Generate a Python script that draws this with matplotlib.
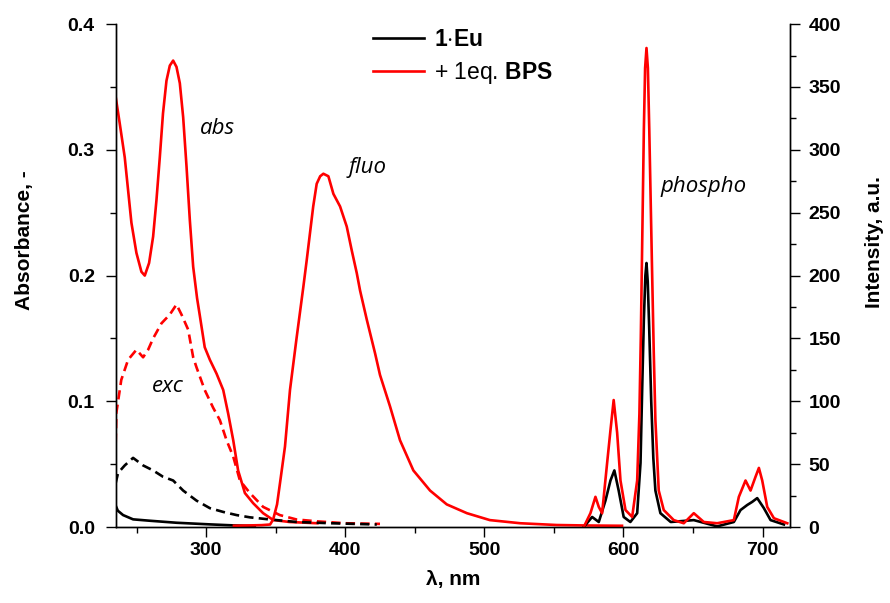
import matplotlib
matplotlib.use('Agg')
import matplotlib.pyplot as plt
from matplotlib.ticker import MultipleLocator, FormatStrFormatter

plt.rcParams['font.family'] = ['Liberation Sans', 'DejaVu Sans']
plt.rcParams['mathtext.fontset'] = 'custom'
plt.rcParams['mathtext.rm'] = 'Liberation Sans'
plt.rcParams['mathtext.bf'] = 'Liberation Sans:bold'

# absorbance (left axis)
abs_red_nm = [235, 237.9, 241.5, 243.9, 246.3, 249.9, 253.5, 255.9, 259, 261.9, 264.3, 266.7,
              269, 271.5, 273.9, 276.3, 278.7, 281.1, 283.5, 285.9, 288.3, 290.7, 293.5, 295.5,
              299, 302.7, 307.5, 312.3, 315.9, 319.5, 323, 327.9, 333.8, 341, 348.2, 360, 380]
abs_red = [0.342, 0.321, 0.294, 0.268, 0.242, 0.218, 0.203, 0.200, 0.210, 0.231, 0.260, 0.294,
           0.329, 0.355, 0.367, 0.371, 0.366, 0.353, 0.326, 0.287, 0.244, 0.207, 0.182, 0.168,
           0.143, 0.133, 0.122, 0.109, 0.090, 0.069, 0.045, 0.027, 0.019, 0.011, 0.0056, 0.004, 0.003]
abs_blk_nm = [235, 236.5, 240.3, 247.5, 259.5, 278.7, 302.7, 319.5, 335]
abs_blk = [0.017, 0.013, 0.0095, 0.0061, 0.005, 0.0034, 0.0021, 0.0013, 0.0008]

# excitation (right axis)
exc_red_nm = [235, 235.5, 239, 243.9, 249.9, 254.7, 258.3, 261.9, 267.9, 273.9, 278.7, 282.3,
              287.1, 290.7, 293.1, 299, 305, 309.9, 314.7, 319.5, 324.3, 331.5, 341, 353,
              365, 380, 400, 425]
exc_red = [67, 91, 117, 133, 141, 135, 141, 150, 162, 169, 177, 169,
           157, 135, 127, 109, 95, 85, 69, 56, 37, 27, 16, 9.5,
           6, 4.5, 3, 2.5]
exc_blk_nm = [235, 236.7, 241.5, 247.5, 254.7, 261.9, 269, 276.3, 283.5, 293.1, 302.7, 312.3,
              321.9, 331.5, 345.9, 365, 390, 422.7]
exc_blk = [35, 43, 49, 55, 49, 45, 40, 37, 29, 21, 15, 12,
           9.5, 7.7, 6, 4, 3, 2]

# fluorescence (right axis)
fluo_nm = [320, 340, 346, 348.2, 351, 353.5, 356.7, 360.3, 365, 369.9, 372.3, 374.7, 377,
           379.5, 382, 384.3, 387.9, 391.5, 396.3, 401.1, 404.7, 408.3, 410.7, 415.5, 421.5,
           425, 432.2, 439.4, 449, 461, 473, 487.5, 504, 525.9, 552, 575, 599]
fluo = [1, 1.5, 2, 6, 18, 38, 64, 109, 150, 191, 212, 234, 255,
        273, 279, 281, 279, 265, 255, 239, 220, 202, 188, 165, 138,
        121, 96, 69, 45, 29, 18, 11, 5.5, 3, 1.6, 1.2, 1]

# phosphorescence (right axis)
ph_red_nm = [571.5, 576.3, 579.9, 582.3, 584.7, 588.3, 590.7, 593, 595.5, 597.9, 601.5, 606.3,
             609.9, 611.5, 612.5, 613.3, 614.7, 615.6, 616.6, 617.6, 618.6, 620.5, 621.8, 623,
             625.4, 629, 636.2, 643.4, 650.6, 657.8, 667.4, 679.4, 683, 687.8, 691.4, 695,
             697.4, 699.8, 703.4, 708.2, 717.8]
ph_red = [0, 11, 24, 16, 11, 51, 77, 101, 75, 37, 13.5, 8,
          37, 90, 150, 210, 316, 365, 381, 365, 316, 210, 140, 85,
          29, 13.5, 5.5, 3, 11, 4, 3, 5.5, 24, 37, 29, 40,
          47, 37, 16, 7, 3]
ph_blk_nm = [571.5, 577.5, 582.3, 587.1, 590.7, 593.5, 596.6, 600.2, 605, 609.9, 612.3, 613.5,
             614.7, 615.8, 616.6, 617.5, 618.5, 620, 621.5, 623, 626.6, 634, 650.6, 667.4,
             679.4, 684.2, 689, 692.6, 696.2, 701, 705.8, 715.4]
ph_blk = [0, 8, 4, 21, 37, 45, 29, 8, 4, 11, 51, 110,
          165, 200, 210, 195, 160, 100, 55, 29, 11, 4, 5.5, 0.5,
          4, 13.5, 17.5, 20, 23, 15, 5.5, 2]

red = '#ff0000'
lw = 1.9
fig = plt.figure(figsize=(8.9, 6.03), dpi=100)
ax = fig.add_axes([0.130, 0.126, 0.758, 0.834])
ax2 = ax.twinx()

ax.plot(abs_red_nm, abs_red, color=red, lw=lw)
ax.plot(abs_blk_nm, abs_blk, color='black', lw=lw)
ax2.plot(exc_red_nm, exc_red, color=red, lw=lw, ls=(0, (3.5, 2)))
ax2.plot(exc_blk_nm, exc_blk, color='black', lw=lw, ls=(0, (3.5, 2)))
ax2.plot(fluo_nm, fluo, color=red, lw=lw)
ax2.plot(ph_blk_nm, ph_blk, color='black', lw=lw)
ax2.plot(ph_red_nm, ph_red, color=red, lw=lw)

ax.set_xlim(235, 720)
ax.set_ylim(0, 0.4)
ax2.set_ylim(0, 400)
ax.xaxis.set_major_locator(MultipleLocator(100))
ax.xaxis.set_minor_locator(MultipleLocator(50))
ax.yaxis.set_major_locator(MultipleLocator(0.1))
ax.yaxis.set_minor_locator(MultipleLocator(0.05))
ax.yaxis.set_major_formatter(FormatStrFormatter('%.1f'))
ax2.yaxis.set_major_locator(MultipleLocator(50))
ax2.yaxis.set_minor_locator(MultipleLocator(25))

for a in (ax, ax2):
    a.spines['top'].set_visible(False)
    for s in a.spines.values():
        s.set_linewidth(1.0)
    a.tick_params(which='major', direction='out', length=7, width=1.0, labelsize=14)
    a.tick_params(which='minor', direction='out', length=4, width=1.0)
    for lab in a.get_xticklabels() + a.get_yticklabels():
        lab.set_fontweight('bold')
ax.tick_params(axis='y', which='major', pad=8)
ax2.tick_params(axis='y', which='major', pad=6)

ax.set_xlabel('λ, nm', fontsize=15, fontweight='bold', labelpad=8)
fig.text(0.028, 0.602, 'Absorbance, -', fontsize=15, fontweight='bold',
         rotation=90, ha='center', va='center')
fig.text(0.983, 0.598, 'Intensity, a.u.', fontsize=15, fontweight='bold',
         rotation=90, ha='center', va='center')

lab_font = dict(family=['Open Sans', 'DejaVu Sans'], style='italic', fontsize=16)
ax.text(308.4, 0.317, 'abs', ha='center', va='center', **lab_font)
ax.text(416.4, 0.286, 'fluo', ha='center', va='center', **lab_font)
ax.text(272.4, 0.112, 'exc', ha='center', va='center', **lab_font)
ax.text(657.6, 0.271, 'phospho', ha='center', va='center', **lab_font)

h1, = ax.plot([], [], color='black', lw=lw)
h2, = ax.plot([], [], color=red, lw=lw)
ax.legend([h1, h2], [r'$\mathbf{1{\cdot}Eu}$', r'+ 1eq. $\mathbf{BPS}$'],
          loc='upper left', bbox_to_anchor=(0.351, 1.034), frameon=False, fontsize=16.5,
          handlelength=2.2, handletextpad=0.45, labelspacing=0.4)

fig.savefig('out.png', dpi=100)
